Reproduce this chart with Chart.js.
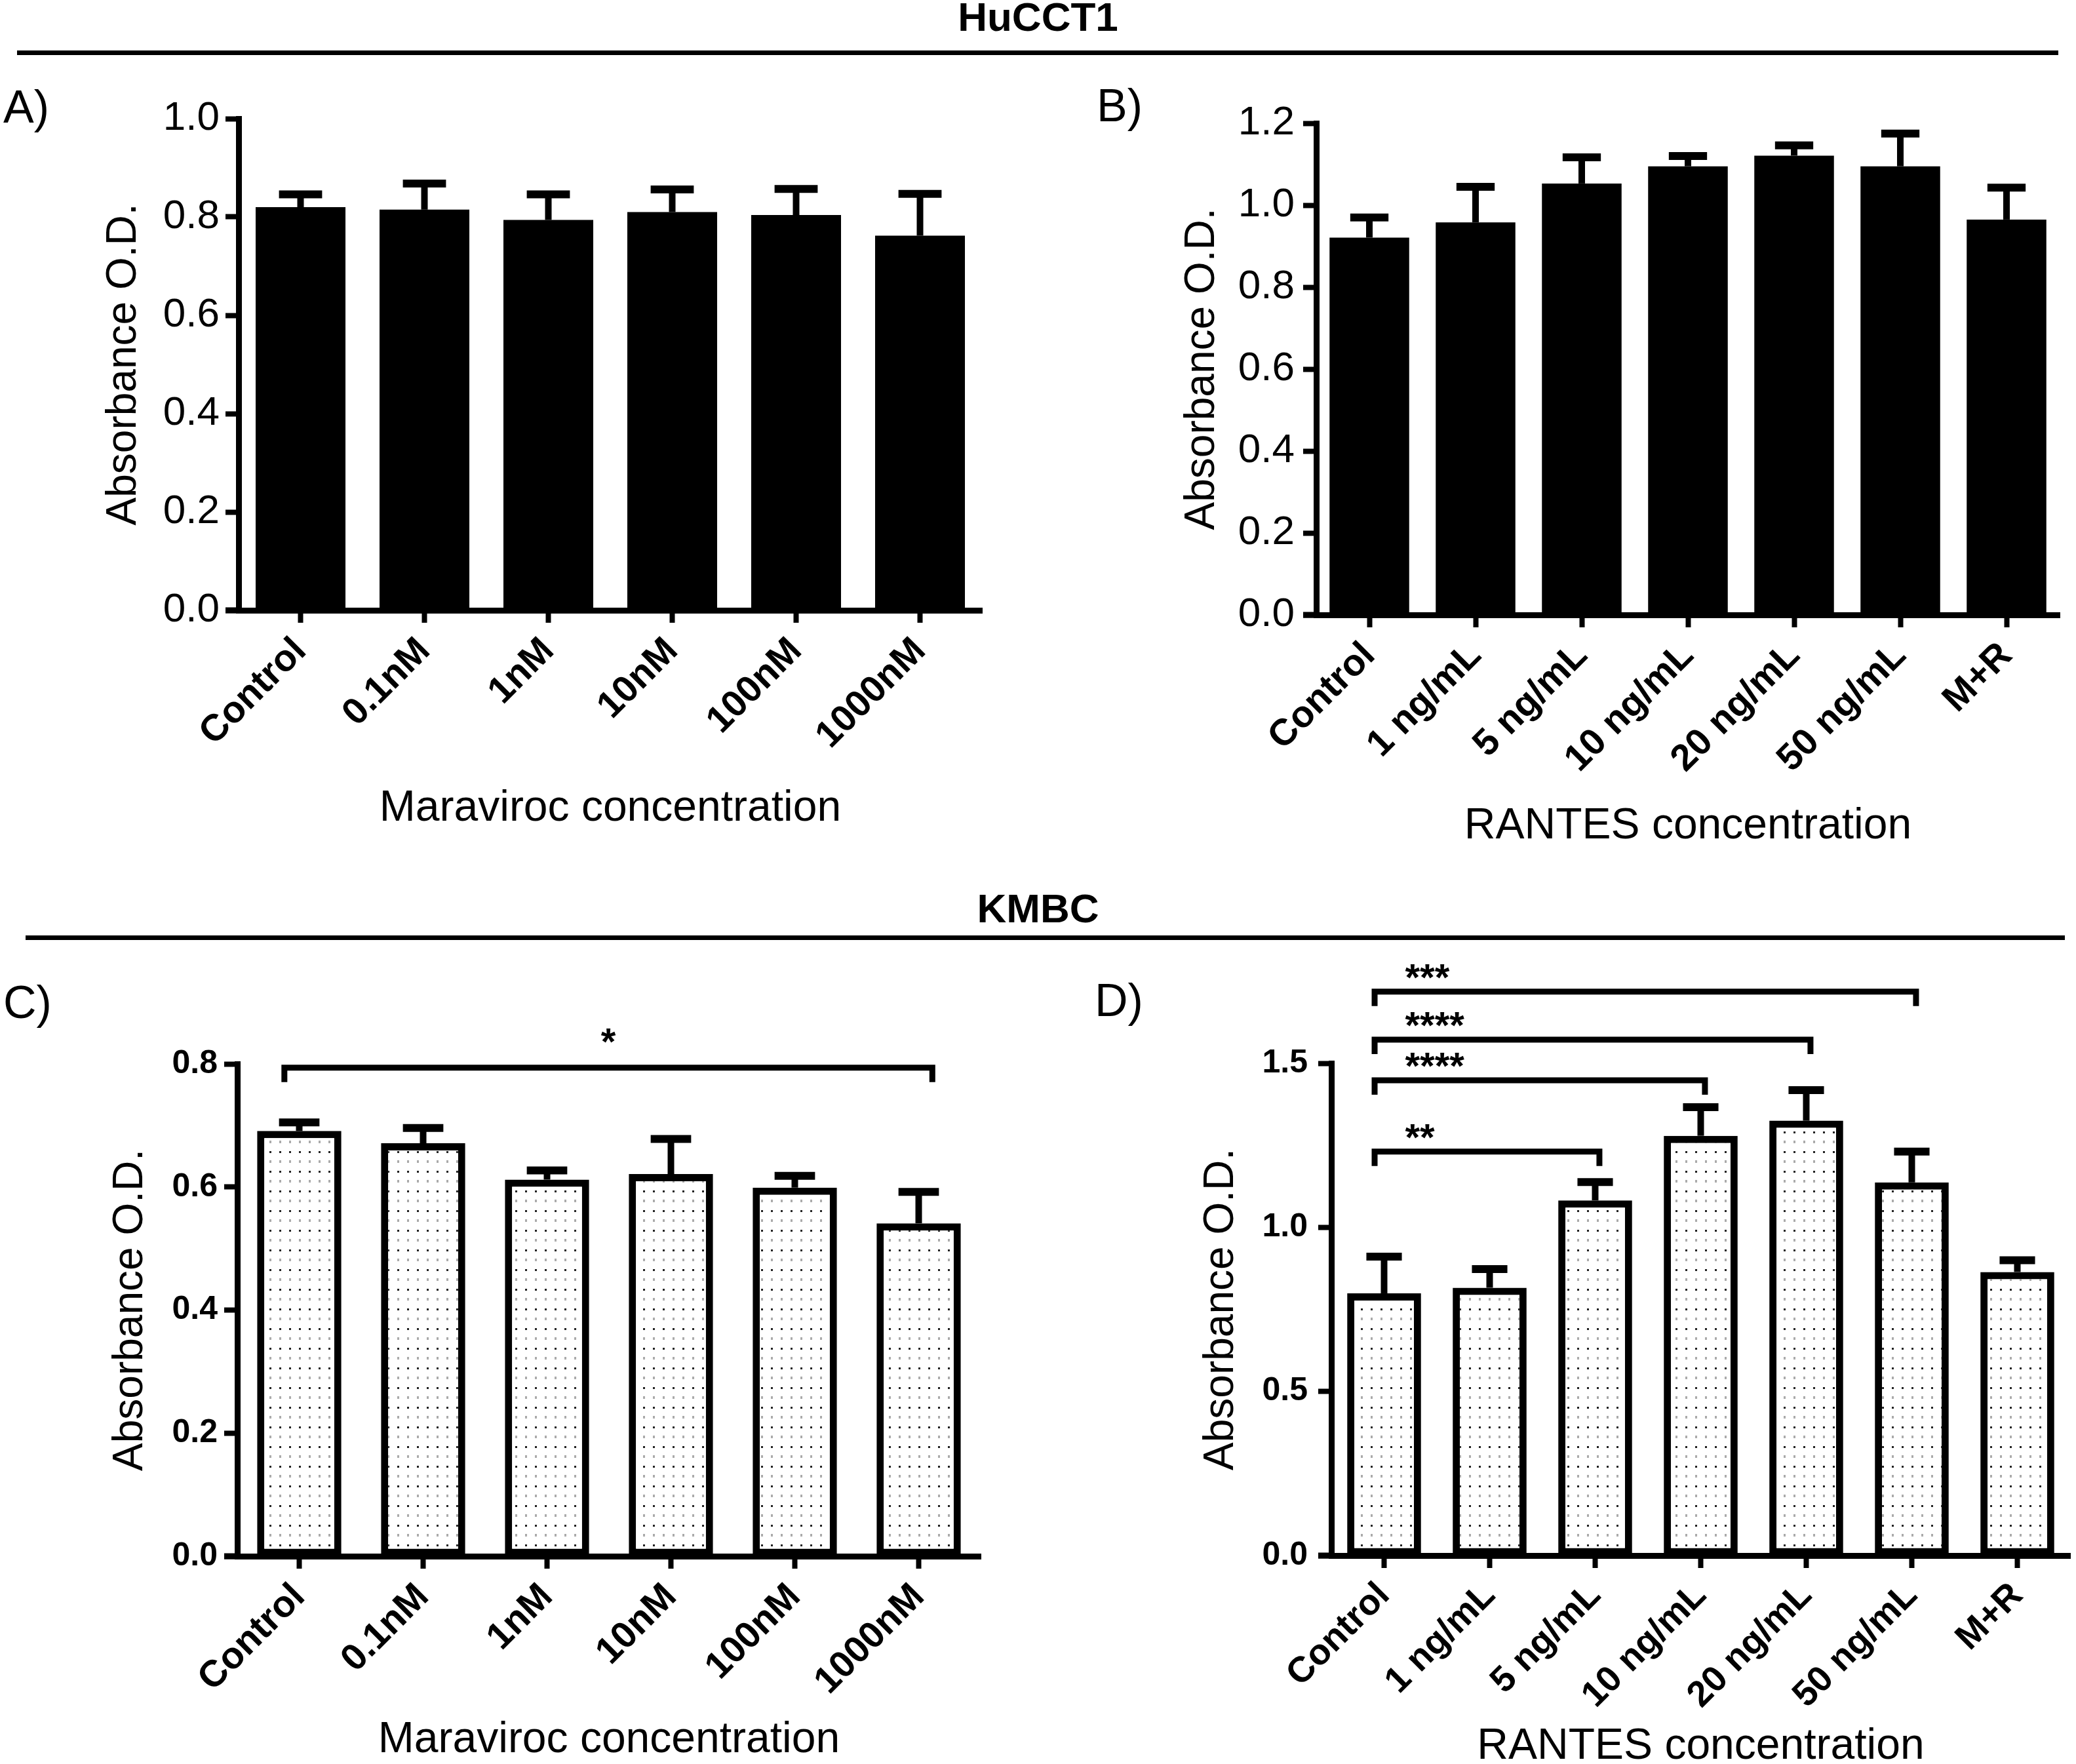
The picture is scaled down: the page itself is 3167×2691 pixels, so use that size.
<!DOCTYPE html>
<html>
<head>
<meta charset="utf-8">
<script src="https://cdn.jsdelivr.net/npm/chart.js@4.4.1/dist/chart.umd.min.js"></script>
<style>
  html, body { margin: 0; padding: 0; background: #fff; }
  #page { position: relative; width: 3167px; height: 2691px; overflow: hidden; background: #fff;
          font-family: "Liberation Sans", Arial, sans-serif; color: #000; }
  canvas { position: absolute; }
  .rule { position: absolute; background: #000; height: 7px; }
  .head { position: absolute; left: 0; width: 3167px; text-align: center; font-weight: bold;
          font-size: 62px; line-height: 62px; }
  .tag { position: absolute; font-size: 70px; line-height: 70px; }
</style>
</head>
<body>
<div id="page">
  <div class="head" style="top:-5px">HuCCT1</div>
  <div class="rule" style="left:26px; width:3114px; top:77px"></div>
  <div class="head" style="top:1355px">KMBC</div>
  <div class="rule" style="left:39px; width:3111px; top:1427px"></div>
  <div class="tag" style="left:5px; top:128px">A)</div>
  <div class="tag" style="left:1673px; top:126px">B)</div>
  <div class="tag" style="left:5px; top:1494px">C)</div>
  <div class="tag" style="left:1670px; top:1491px">D)</div>
  <canvas id="chartA"></canvas>
  <canvas id="chartB"></canvas>
  <canvas id="chartC"></canvas>
  <canvas id="chartD"></canvas>
</div>
<script>
// categories
const maravirocLabels = ['Control', '0.1nM', '1nM', '10nM', '100nM', '1000nM'];
const rantesLabels = ['Control', '1 ng/mL', '5 ng/mL', '10 ng/mL', '20 ng/mL', '50 ng/mL', 'M+R'];

// HuCCT1 (panels A, B): mean and SEM (upper error bar only)
const hucMaraMean = [0.820, 0.815, 0.794, 0.810, 0.804, 0.762];
const hucMaraSem = [0.026, 0.053, 0.052, 0.046, 0.053, 0.085];
const hucRantesMean = [0.921, 0.958, 1.053, 1.095, 1.121, 1.095, 0.965];
const hucRantesSem = [0.049, 0.087, 0.064, 0.025, 0.025, 0.080, 0.078];

// KMBC (panels C, D)
const kmbcMaraMean = [0.691, 0.671, 0.612, 0.621, 0.599, 0.541];
const kmbcMaraSem = [0.014, 0.025, 0.015, 0.057, 0.019, 0.051];
const kmbcRantesMean = [0.799, 0.816, 1.082, 1.279, 1.325, 1.137, 0.864];
const kmbcRantesSem = [0.112, 0.057, 0.056, 0.087, 0.093, 0.094, 0.036];

// significance brackets (category index from / to, bracket height, label)
const maraSigFrom = [0];
const maraSigTo = [5];
const maraSigY = [0.794];
const maraSigLabel = ['*'];
const rantesSigFrom = [0, 0, 0, 0];
const rantesSigTo = [2, 3, 4, 5];
const rantesSigY = [1.231, 1.448, 1.572, 1.718];
const rantesSigLabel = ['**', '****', '****', '***'];

const FONT = '"Liberation Sans", Arial, sans-serif';
Chart.defaults.font.family = FONT;
Chart.defaults.color = '#000';

// dotted fill used by the KMBC bars
function dotPattern() {
    const c = document.createElement('canvas');
    c.width = 15; c.height = 30;
    const g = c.getContext('2d');
    g.fillStyle = '#fff';
    g.fillRect(0, 0, 15, 30);
    g.fillStyle = '#222';
    g.fillRect(6, 6, 3, 3);
    g.fillStyle = '#aaa';
    g.fillRect(6, 20, 3, 4);
    return g.createPattern(c, 'repeat');
}

const errorBars = {
    id: 'errorBars',
    afterDatasetsDraw(chart, args, opts) {
        const ctx = chart.ctx;
        const y = chart.scales.y;
        const values = chart.data.datasets[0].data;
        ctx.save();
        ctx.strokeStyle = '#000';
        chart.getDatasetMeta(0).data.forEach((bar, i) => {
            const top = y.getPixelForValue(values[i] + opts.sem[i]);
            const half = bar.width * 0.48 / 2;
            ctx.lineWidth = 10;
            ctx.beginPath();
            ctx.moveTo(bar.x, bar.y);
            ctx.lineTo(bar.x, top);
            ctx.stroke();
            ctx.lineWidth = 12;
            ctx.beginPath();
            ctx.moveTo(bar.x - half, top);
            ctx.lineTo(bar.x + half, top);
            ctx.stroke();
        });
        ctx.restore();
    }
};

const brackets = {
    id: 'brackets',
    afterDraw(chart, args, opts) {
        if (!opts.from) return;
        const ctx = chart.ctx;
        const x = chart.scales.x;
        const y = chart.scales.y;
        ctx.save();
        ctx.strokeStyle = '#000';
        ctx.fillStyle = '#000';
        ctx.lineWidth = 9;
        ctx.lineJoin = 'miter';
        ctx.font = 'bold 58px ' + FONT;
        opts.from.forEach((f, i) => {
            const x1 = x.getPixelForValue(f + opts.leftOff);
            const x2 = x.getPixelForValue(opts.to[i] + opts.rightOff);
            const yy = y.getPixelForValue(opts.at[i]);
            ctx.beginPath();
            ctx.moveTo(x1, yy + 22);
            ctx.lineTo(x1, yy);
            ctx.lineTo(x2, yy);
            ctx.lineTo(x2, yy + 22);
            ctx.stroke();
            ctx.textBaseline = 'alphabetic';
            if (opts.align === 'center') {
                ctx.textAlign = 'center';
                ctx.fillText(opts.text[i], (x1 + x2) / 2, yy - opts.gap);
            } else {
                ctx.textAlign = 'left';
                ctx.fillText(opts.text[i], x.getPixelForValue(f) + opts.dx, yy - opts.gap);
            }
        });
        ctx.restore();
    }
};

// x axis line runs on to the left end of the y ticks
const axisStub = {
    id: 'axisStub',
    afterDraw(chart) {
        const a = chart.chartArea;
        const ctx = chart.ctx;
        ctx.save();
        ctx.fillStyle = '#000';
        ctx.fillRect(a.left - 20, a.bottom - 4.5, 25, 9);
        ctx.restore();
    }
};

function buildPanel(id, box, plot, s) {
    const cv = document.getElementById(id);
    cv.width = box.w;
    cv.height = box.h;
    cv.style.left = box.x + 'px';
    cv.style.top = box.y + 'px';

    const yTitleSize = 64, xTitleSize = 66;
    const hatched = s.hatched;

    new Chart(cv.getContext('2d'), {
        type: 'bar',
        data: {
            labels: s.labels,
            datasets: [{
                data: s.means,
                backgroundColor: hatched ? dotPattern() : '#000',
                borderColor: '#000',
                borderWidth: hatched ? 11 : 0,
                borderSkipped: false,
                barPercentage: s.barPct,
                categoryPercentage: 1
            }]
        },
        options: {
            responsive: false,
            animation: false,
            devicePixelRatio: 1,
            events: [],
            layout: {
                padding: {
                    left: 0,
                    top: plot.top - box.y,
                    right: box.x + box.w - plot.right,
                    bottom: 0
                }
            },
            scales: {
                x: {
                    afterFit(scale) { scale.height = box.y + box.h - plot.bottom; },
                    grid: { display: true, drawOnChartArea: false, offset: false, color: '#000',
                            tickLength: 19, tickWidth: 8 },
                    border: { display: true, color: '#000', width: 9 },
                    ticks: {
                        autoSkip: false, minRotation: 45, maxRotation: 45, padding: 10,
                        color: '#000', font: { size: s.xTickSize, weight: 'bold' }
                    },
                    title: {
                        display: true, text: s.xTitle, color: '#000',
                        font: { size: xTitleSize, weight: 'normal', lineHeight: 1 },
                        padding: { top: 0, bottom: (box.y + box.h - s.xTitleY) - xTitleSize / 2 }
                    }
                },
                y: {
                    min: 0, max: s.yMax,
                    afterFit(scale) { scale.width = plot.left - box.x; },
                    grid: { display: true, drawOnChartArea: false, color: '#000',
                            tickLength: 20, tickWidth: 8 },
                    border: { display: true, color: '#000', width: 9 },
                    ticks: {
                        stepSize: s.yStep, padding: s.yPad, color: '#000',
                        font: { size: s.yTickSize, weight: s.yTickWeight },
                        callback: v => v.toFixed(1)
                    },
                    title: {
                        display: true, text: 'Absorbance O.D.', color: '#000',
                        font: { size: yTitleSize, weight: 'normal', lineHeight: 1 },
                        padding: { top: (s.yTitleX - box.x) - yTitleSize / 2, bottom: 0 }
                    }
                }
            },
            plugins: {
                legend: { display: false },
                tooltip: { enabled: false },
                errorBars: { sem: s.sems },
                brackets: s.sig || {}
            }
        },
        plugins: [errorBars, brackets, axisStub]
    });
}

buildPanel('chartA', { x: 0, y: 100, w: 1580, h: 1200 },
    { left: 364, right: 1498, top: 181, bottom: 931 },
    { labels: maravirocLabels, means: hucMaraMean, sems: hucMaraSem, hatched: false,
      barPct: 0.725, yMax: 1.0, yStep: 0.2, yPad: 9, yTickSize: 62, yTickWeight: 'normal',
      xTickSize: 57, xTitle: 'Maraviroc concentration', xTitleY: 1234, yTitleX: 189 });

buildPanel('chartB', { x: 1590, y: 100, w: 1577, h: 1220 },
    { left: 2008, right: 3142, top: 188, bottom: 938 },
    { labels: rantesLabels, means: hucRantesMean, sems: hucRantesSem, hatched: false,
      barPct: 0.75, yMax: 1.2, yStep: 0.2, yPad: 13, yTickSize: 62, yTickWeight: 'normal',
      xTickSize: 57, xTitle: 'RANTES concentration', xTitleY: 1261, yTitleX: 1834 });

buildPanel('chartC', { x: 0, y: 1450, w: 1580, h: 1241 },
    { left: 362, right: 1496, top: 1623, bottom: 2374 },
    { labels: maravirocLabels, means: kmbcMaraMean, sems: kmbcMaraSem, hatched: true,
      barPct: 0.68, yMax: 0.8, yStep: 0.2, yPad: 10, yTickSize: 50, yTickWeight: 'bold',
      xTickSize: 57, xTitle: 'Maraviroc concentration', xTitleY: 2655, yTitleX: 199,
      sig: { from: maraSigFrom, to: maraSigTo, at: maraSigY, text: maraSigLabel,
             leftOff: -0.12, rightOff: 0.11, align: 'center', gap: 20, dx: 0 } });

buildPanel('chartD', { x: 1590, y: 1450, w: 1577, h: 1241 },
    { left: 2031, right: 3158, top: 1622, bottom: 2373 },
    { labels: rantesLabels, means: kmbcRantesMean, sems: kmbcRantesSem, hatched: true,
      barPct: 0.70, yMax: 1.5, yStep: 0.5, yPad: 16, yTickSize: 50, yTickWeight: 'bold',
      xTickSize: 55, xTitle: 'RANTES concentration', xTitleY: 2665, yTitleX: 1863,
      sig: { from: rantesSigFrom, to: rantesSigTo, at: rantesSigY, text: rantesSigLabel,
             leftOff: -0.09, rightOff: 0.04, align: 'left', gap: 2, dx: 32 } });
</script>
</body>
</html>
